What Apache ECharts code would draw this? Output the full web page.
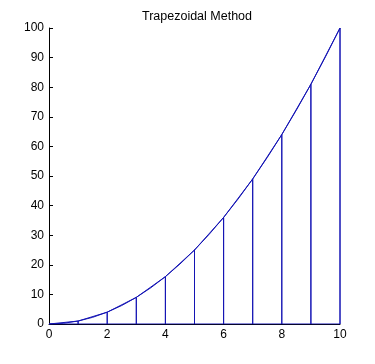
<!DOCTYPE html>
<html><head><meta charset="utf-8">
<script src="https://cdn.jsdelivr.net/npm/echarts@6/dist/echarts.min.js"></script>
<style>html,body{margin:0;padding:0;background:#fff}#c{width:375px;height:364px}</style>
</head><body><div id="c"></div>
<script>
// Trapezoid nodes
var nodeX = [0, 1, 2, 3, 4, 5, 6, 7, 8, 9, 10];
var nodeY = [0, 1, 4, 9, 16, 25, 36, 49, 64, 81, 100];
// Smooth curve samples
var curveX = [0, 0.5, 1, 1.5, 2, 2.5, 3, 3.5, 4, 4.5, 5, 5.5, 6, 6.5, 7, 7.5, 8, 8.5, 9, 9.5, 10];
var curveY = [0, 0.25, 1, 2.25, 4, 6.25, 9, 12.25, 16, 20.25, 25, 30.25, 36, 42.25, 49, 56.25, 64, 72.25, 81, 90.25, 100];
var xTicks = [0, 2, 4, 6, 8, 10];
var yTicks = [0, 10, 20, 30, 40, 50, 60, 70, 80, 90, 100];

var trapPath = [];
for (var i = 0; i < nodeX.length; i++) {
  trapPath.push([nodeX[i], nodeY[i]]);
  trapPath.push([nodeX[i], 0]);
  trapPath.push([nodeX[i], nodeY[i]]);
}
var basePath = [[nodeX[0], 0], [nodeX[nodeX.length - 1], 0]];
var curve = curveX.map(function (x, i) { return [x, curveY[i]]; });

var blue = '#1414b4';
var chart = echarts.init(document.getElementById('c'), null, {renderer: 'canvas'});
chart.setOption({
  animation: false,
  title: {
    text: 'Trapezoidal Method', left: 192, top: 5, textAlign: 'center',
    textStyle: {fontFamily: 'Liberation Sans, Arial, sans-serif', fontSize: 12.5, fontWeight: 'normal', color: '#000'}
  },
  grid: {left: 49, right: 35, top: 28, bottom: 40, containLabel: false},
  xAxis: {
    type: 'value', min: xTicks[0], max: xTicks[xTicks.length - 1], interval: 2,
    axisLine: {lineStyle: {color: '#000', width: 1}},
    axisTick: {show: false},
    axisLabel: {margin: 5, color: '#000', fontSize: 12, fontFamily: 'Liberation Sans, Arial, sans-serif'},
    splitLine: {show: false}
  },
  yAxis: {
    type: 'value', min: yTicks[0], max: yTicks[yTicks.length - 1], interval: 10,
    axisLine: {show: true, lineStyle: {color: '#000', width: 1}},
    axisTick: {show: true, inside: true, length: 4, lineStyle: {color: '#000'}},
    axisLabel: {margin: 5, color: '#000', fontSize: 12, fontFamily: 'Liberation Sans, Arial, sans-serif'},
    splitLine: {show: false}
  },
  series: [
    {type: 'line', data: curve, showSymbol: false, lineStyle: {color: blue, width: 1}, z: 3},
    {type: 'line', data: trapPath, showSymbol: false, lineStyle: {color: blue, width: 1}, z: 4},
    {type: 'line', data: basePath, showSymbol: false, lineStyle: {color: blue, width: 1}, z: 5}
  ]
});
</script></body></html>
